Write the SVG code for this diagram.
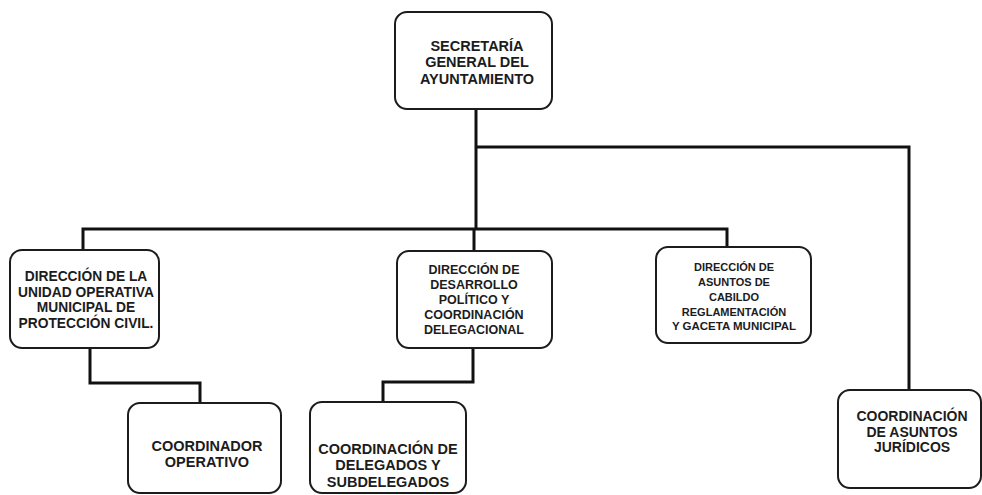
<svg xmlns="http://www.w3.org/2000/svg" width="982" height="495" viewBox="0 0 982 495">
<style>
.box{fill:#fff;stroke:#1c1c1c;stroke-width:2}
.t{font-family:"Liberation Sans",Arial,sans-serif;font-weight:bold;fill:#1c1c1c;text-anchor:middle}
.c{fill:none;stroke:#111;stroke-width:3;stroke-linejoin:miter}
</style>
<rect width="982" height="495" fill="#fff"/>
<g id="connectors">
<path class="c" d="M476 109 V229"/>
<path class="c" d="M83 250 V229 H727 V247"/>
<path class="c" d="M474 229 V251"/>
<path class="c" d="M476 147 H909 V390"/>
<path class="c" d="M90 348 V383 H200 V403"/>
<path class="c" d="M473 348 V382 H383 V402"/>
</g>
<g id="secretaria">
<rect class="box" x="395" y="12" width="157" height="97" rx="12"/>
<text class="t" font-size="14.5" x="477" y="51">SECRETARÍA</text>
<text class="t" font-size="14.5" x="477" y="67.3">GENERAL DEL</text>
<text class="t" font-size="14.5" x="477" y="83.6">AYUNTAMIENTO</text>
</g>
<g id="proteccion">
<rect class="box" x="10" y="250" width="149" height="98" rx="12"/>
<text class="t" font-size="13.8" x="86" y="281">DIRECCIÓN DE LA</text>
<text class="t" font-size="13.8" x="86" y="296.5">UNIDAD OPERATIVA</text>
<text class="t" font-size="13.8" x="86" y="312">MUNICIPAL DE</text>
<text class="t" font-size="13.8" x="86" y="327.5">PROTECCIÓN CIVIL.</text>
</g>
<g id="desarrollo">
<rect class="box" x="397" y="251" width="155" height="97" rx="12"/>
<text class="t" font-size="12.5" x="474" y="274">DIRECCIÓN DE</text>
<text class="t" font-size="12.5" x="474" y="289">DESARROLLO</text>
<text class="t" font-size="12.5" x="474" y="304">POLÍTICO Y</text>
<text class="t" font-size="12.5" x="474" y="319">COORDINACIÓN</text>
<text class="t" font-size="12.5" x="474" y="334">DELEGACIONAL</text>
</g>
<g id="cabildo">
<rect class="box" x="656" y="247" width="155" height="96" rx="12"/>
<text class="t" font-size="11" x="734" y="271">DIRECCIÓN  DE</text>
<text class="t" font-size="11" x="734" y="286">ASUNTOS DE</text>
<text class="t" font-size="11" x="734" y="301">CABILDO</text>
<text class="t" font-size="11" x="734" y="316">REGLAMENTACIÓN</text>
<text class="t" font-size="11.5" x="734" y="330">Y GACETA MUNICIPAL</text>
</g>
<g id="operativo">
<rect class="box" x="128" y="403" width="153" height="90" rx="12"/>
<text class="t" font-size="14.5" x="207" y="451">COORDINADOR</text>
<text class="t" font-size="14.5" x="207" y="467.3">OPERATIVO</text>
</g>
<g id="delegados">
<rect class="box" x="310" y="402" width="156" height="91" rx="12"/>
<text class="t" font-size="14.5" x="388" y="454">COORDINACIÓN DE</text>
<text class="t" font-size="14.5" x="388" y="470.3">DELEGADOS Y</text>
<text class="t" font-size="14.5" x="388" y="486.6">SUBDELEGADOS</text>
</g>
<g id="juridicos">
<rect class="box" x="838" y="390" width="143" height="98" rx="12"/>
<text class="t" font-size="14" x="912" y="421">COORDINACIÓN</text>
<text class="t" font-size="14" x="912" y="436.7">DE ASUNTOS</text>
<text class="t" font-size="14" x="912" y="452.4">JURÍDICOS</text>
</g>
</svg>
